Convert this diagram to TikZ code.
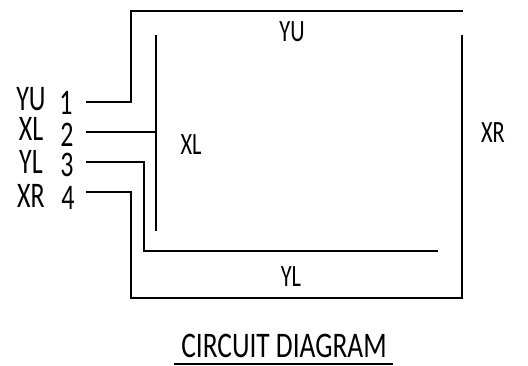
\documentclass[tikz,border=0pt]{standalone}
\usepackage{fontspec}
\setmainfont{Carlito}
\tikzset{
  wire/.style={draw=black,line width=2pt,line cap=butt,line join=miter},
  biglabel/.style={inner sep=0pt,font=\fontsize{36}{36}\selectfont,xscale=0.72},
  smalllabel/.style={inner sep=0pt,font=\fontsize{31}{31}\selectfont,xscale=0.72},
  titlelabel/.style={inner sep=0pt,font=\fontsize{36}{36}\selectfont,xscale=0.76}
}
\begin{document}
\begin{tikzpicture}[x=1pt,y=-1pt]
\useasboundingbox (0,0) rectangle (528,366);
% terminal labels
\node[biglabel] (lyu) at (31,99) {YU};
\node[biglabel] (lxl) at (31,129) {XL};
\node[biglabel] (lyl) at (31,162) {YL};
\node[biglabel] (lxr) at (31,196) {XR};
\node[biglabel] (n1) at (66,103) {1};
\node[biglabel] (n2) at (67,135) {2};
\node[biglabel] (n3) at (67,165) {3};
\node[biglabel] (n4) at (68,198) {4};
% coil labels
\node[smalllabel] (yu) at (292,32) {YU};
\node[smalllabel] (xl) at (191,145) {XL};
\node[smalllabel] (xr) at (493,133) {XR};
\node[smalllabel] (yl) at (291,277) {YL};
\node[titlelabel] (title) at (284,346) {CIRCUIT DIAGRAM};
% wire ends
\coordinate (w1) at (86,102);
\coordinate (w1a) at (131,102);
\coordinate (w1b) at (131,11);
\coordinate (w1c) at (463,11);
\coordinate (w2) at (86,132);
\coordinate (w2a) at (156,132);
\coordinate (xlt) at (156,35);
\coordinate (xlb) at (156,231);
\coordinate (w3) at (86,162);
\coordinate (w3a) at (144,162);
\coordinate (w3b) at (144,251);
\coordinate (w3c) at (438,251);
\coordinate (w4) at (86,192);
\coordinate (w4a) at (131,192);
\coordinate (w4b) at (131,298);
\coordinate (w4c) at (462,298);
\coordinate (w4d) at (462,35);
\coordinate (ula) at (174,364.5);
\coordinate (ulb) at (393,364.5);
\draw[wire] (w1) -- (w1a) -- (w1b) -- (w1c);
\draw[wire] (w2) -- (w2a);
\draw[wire] (xlt) -- (xlb);
\draw[wire] (w3) -- (w3a) -- (w3b) -- (w3c);
\draw[wire] (w4) -- (w4a) -- (w4b) -- (w4c) -- (w4d);
\draw[wire] (ula) -- (ulb);
\end{tikzpicture}
\end{document}
